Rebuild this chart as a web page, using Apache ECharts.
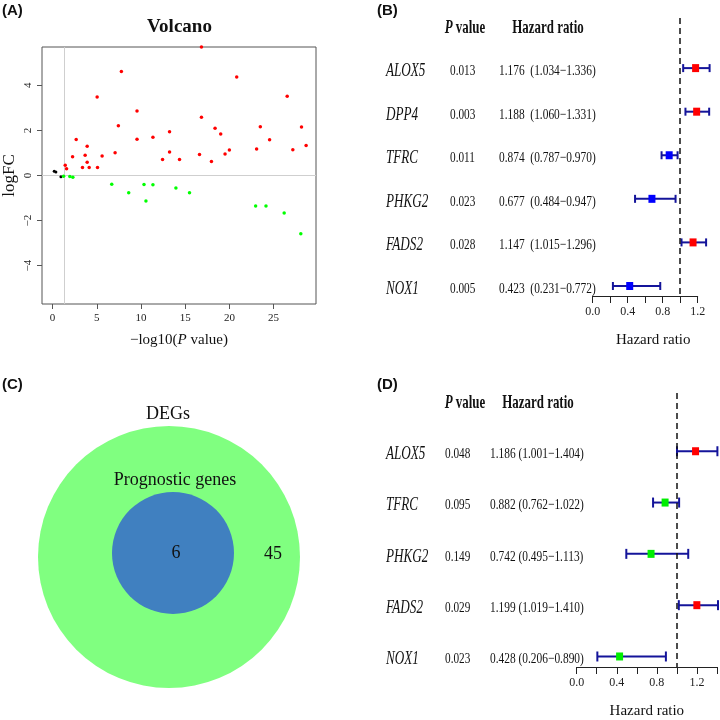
<!DOCTYPE html>
<html><head><meta charset="utf-8">
<script src="https://cdn.jsdelivr.net/npm/echarts@6/dist/echarts.min.js"></script>
<style>html,body{margin:0;padding:0;background:#fff}#c{width:720px;height:720px}</style>
</head><body><div id="c"></div>
<script>
// ---------- Panel A: volcano, points as [-log10(P value), logFC] ----------
const volcanoUp = [[16.84,5.70],[7.78,4.61],[20.83,4.37],[5.04,3.48],[26.54,3.51],[9.55,2.86],[16.84,2.58],[7.44,2.21],[18.38,2.10],[23.50,2.16],[28.16,2.15],[13.23,1.94],[19.02,1.84],[11.35,1.70],[2.67,1.60],[9.55,1.61],[24.55,1.59],[28.68,1.33],[3.91,1.30],[23.08,1.17],[27.18,1.14],[20.00,1.13],[13.23,1.04],[7.07,1.01],[16.62,0.93],[19.51,0.95],[3.68,0.90],[5.60,0.87],[2.26,0.83],[12.44,0.71],[14.36,0.71],[3.91,0.59],[17.97,0.62],[1.43,0.46],[3.38,0.36],[4.14,0.36],[5.08,0.36],[1.58,0.30]];
const volcanoDown = [[1.24,-0.03],[1.95,-0.04],[2.29,-0.08],[6.69,-0.39],[8.61,-0.77],[10.34,-0.40],[10.56,-1.13],[11.35,-0.41],[13.95,-0.56],[15.49,-0.77],[22.97,-1.35],[24.14,-1.35],[26.20,-1.66],[28.08,-2.58]];
const volcanoNS = [[0.18,0.19],[0.37,0.15],[0.94,-0.06]];
const volcanoXTicks = [0,5,10,15,20,25];
const volcanoYTicks = [-4,-2,0,2,4];
const pCutoff = 1.30;

// ---------- Panel B: univariate Cox ----------
const genesB = ['ALOX5','DPP4','TFRC','PHKG2','FADS2','NOX1'];
const pB = ['0.013','0.003','0.011','0.023','0.028','0.005'];
const hrB = [1.176,1.188,0.874,0.677,1.147,0.423];
const lowB = [1.034,1.060,0.787,0.484,1.015,0.231];
const upB = [1.336,1.331,0.970,0.947,1.296,0.772];

// ---------- Panel D: multivariate Cox ----------
const genesD = ['ALOX5','TFRC','PHKG2','FADS2','NOX1'];
const pD = ['0.048','0.095','0.149','0.029','0.023'];
const hrD = [1.186,0.882,0.742,1.199,0.428];
const lowD = [1.001,0.762,0.495,1.019,0.206];
const upD = [1.404,1.022,1.113,1.410,0.890];
const hrTickLabels = [0,0.4,0.8,1.2];

// ---------- Panel C: Venn ----------
const vennSets = ['DEGs','Prognostic genes'];
const vennCounts = [45, 6];

const SERIF = '"Liberation Serif","Times New Roman",serif';
const SANS = '"Liberation Sans",Arial,sans-serif';
const CI = '#14149a';
const chart = echarts.init(document.getElementById('c'));

function forest(idx, genes, pv, hr, lo, hi, cfg){
  const custom = {
    type:'custom', xAxisIndex:idx, yAxisIndex:idx, clip:false, silent:true, z:3,
    data: genes.map((g,i)=>[hr[i], i+1, lo[i], hi[i]]),
    renderItem(params, api){
      const i = params.dataIndex, row = api.value(1);
      const l = api.coord([api.value(2), row]), h = api.coord([api.value(3), row]);
      const y = l[1], ty = y + 3, ls = {stroke:CI, lineWidth:2};
      const hrTxt = hr[i].toFixed(3) + cfg.sep + '(' + lo[i].toFixed(3) + '\u2212' + hi[i].toFixed(3) + ')';
      const ts = (t, o) => Object.assign({text:t, fill:'#111', fontFamily:SERIF, fontSize:15, align:'left', verticalAlign:'middle'}, o||{});
      return {type:'group', children:[
        {type:'line', shape:{x1:l[0],y1:y,x2:h[0],y2:y}, style:ls},
        {type:'line', shape:{x1:l[0],y1:y-cfg.cap,x2:l[0],y2:y+cfg.cap}, style:ls},
        {type:'line', shape:{x1:h[0],y1:y-cfg.cap,x2:h[0],y2:y+cfg.cap}, style:ls},
        {type:'text', x:cfg.geneX, y:ty, scaleX:0.71, style:ts(genes[i], {fontStyle:'italic', fontSize:18.5})},
        {type:'text', x:cfg.pX, y:ty, scaleX:0.75, style:ts(pv[i])},
        {type:'text', x:cfg.hrX, y:ty, scaleX:0.76, style:ts(hrTxt)}
      ]};
    }
  };
  const squares = {
    type:'scatter', xAxisIndex:idx, yAxisIndex:idx, clip:false, silent:true, z:4,
    symbol:'rect', symbolSize:[7,8],
    data: hr.map((v,i)=>({value:[v,i+1], itemStyle:{color: v>1 ? '#ff0000' : cfg.low, opacity:1}})),
    markLine:{silent:true, symbol:'none', label:{show:false}, animation:false,
      lineStyle:{color:'#111', type:[6,4], width:1.5}, data:[{xAxis:1}]}
  };
  return [custom, squares];
}

function hrAxis(idx, max){
  return {gridIndex:idx, type:'value', min:0, max:max, interval:0.2,
    axisLine:{show:true, onZero:false, lineStyle:{color:'#222', width:1}},
    axisTick:{show:true, length:7, lineStyle:{color:'#222'}},
    axisLabel:{margin:10, fontSize:12, color:'#222', fontFamily:SERIF,
      formatter: v => hrTickLabels.some(t=>Math.abs(t-v)<1e-6) ? v.toFixed(1) : ''},
    splitLine:{show:false},
    name:'Hazard ratio', nameLocation:'middle', nameGap:37,
    nameTextStyle:{fontFamily:SERIF, fontSize:15, color:'#111', padding: idx===1 ? [0,0,0,16] : 0}};
}

function header(y, pCx, hCx){
  const base = {fill:'#111', fontFamily:SERIF, fontSize:19, fontWeight:'bold', align:'center', verticalAlign:'middle', textAlign:'center', textVerticalAlign:'middle'};
  return [
    {type:'text', x:pCx, y:y, z:10, scaleX:0.68, silent:true, style:Object.assign({}, base, {text:'{i|P} value',
      rich:{i:{fontStyle:'italic', fontWeight:'bold', fontSize:19, fontFamily:SERIF, fill:'#111'}}})},
    {type:'text', x:hCx, y:y, z:10, scaleX:0.68, silent:true, style:Object.assign({}, base, {text:'Hazard ratio'})}
  ];
}

function panelLabel(x, y, t){
  return {type:'text', x:x, y:y, z:10, silent:true, style:{text:t, fill:'#111', fontFamily:SANS, fontWeight:'bold', fontSize:15, align:'left', verticalAlign:'middle', textAlign:'left', textVerticalAlign:'middle'}};
}
function vennName(x, y, t){
  return {type:'text', x:x, y:y, z:10, silent:true, style:{text:t, fill:'#111', fontFamily:SERIF, fontSize:18, align:'center', verticalAlign:'middle', textAlign:'center', textVerticalAlign:'middle'}};
}

const option = {
  animation:false,
  backgroundColor:'#fff',
  textStyle:{fontFamily:SERIF},
  title:[{text:'Volcano', left:179.5, top:18, textAlign:'center', padding:0,
    textStyle:{fontFamily:SERIF, fontWeight:'bold', fontSize:19, color:'#111'}}],
  grid:[
    {left:41, top:47, width:275, height:257, show:true, borderColor:'#555', borderWidth:1, backgroundColor:'transparent'},
    {left:592.7, top:18, width:105, height:278},
    {left:576.7, top:393, width:141.1, height:277.7},
    {left:0, top:360, width:360, height:360}
  ],
  xAxis:[
    {gridIndex:0, type:'value', min:-1.2, max:29.8,
      axisLine:{show:false, onZero:false},
      axisTick:{show:true, length:5, lineStyle:{color:'#555'}, customValues:volcanoXTicks},
      axisLabel:{margin:9, fontSize:11, color:'#222', fontFamily:SERIF, customValues:volcanoXTicks},
      splitLine:{show:false},
      name:'\u2212log10({i|P} value)', nameLocation:'middle', nameGap:29,
      nameTextStyle:{fontFamily:SERIF, fontSize:15, color:'#111', rich:{i:{fontStyle:'italic', fontFamily:SERIF, fontSize:15, color:'#111'}}}},
    hrAxis(1, 1.2),
    hrAxis(2, 1.4),
    {gridIndex:3, type:'value', min:0, max:360, show:false}
  ],
  yAxis:[
    {gridIndex:0, type:'value', min:-5.7, max:5.7,
      axisLine:{show:false, onZero:false},
      axisTick:{show:true, length:5, lineStyle:{color:'#555'}, customValues:volcanoYTicks},
      axisLabel:{margin:8, fontSize:11, color:'#222', fontFamily:SERIF, rotate:90, customValues:volcanoYTicks,
        formatter: v => (v<0 ? '\u2212'+Math.abs(v) : String(v))},
      splitLine:{show:false},
      name:'logFC', nameLocation:'middle', nameGap:24, nameRotate:90,
      nameTextStyle:{fontFamily:SERIF, fontSize:17, color:'#111'}},
    {gridIndex:1, type:'value', inverse:true, min:-0.15, max:6.23, show:false},
    {gridIndex:2, type:'value', inverse:true, min:-0.135, max:5.205, show:false},
    {gridIndex:3, type:'value', inverse:true, min:360, max:720, show:false}
  ],
  series:[
    {type:'scatter', xAxisIndex:0, yAxisIndex:0, data:volcanoNS, symbolSize:3, itemStyle:{color:'#000', opacity:1}, silent:true},
    {type:'scatter', xAxisIndex:0, yAxisIndex:0, data:volcanoDown, symbolSize:3.5, itemStyle:{color:'#00ff00', opacity:1}, silent:true},
    {type:'scatter', xAxisIndex:0, yAxisIndex:0, data:volcanoUp, symbolSize:3.5, itemStyle:{color:'#ff0000', opacity:1}, silent:true,
      markLine:{silent:true, symbol:'none', label:{show:false}, z:1,
        lineStyle:{color:'#cfcfcf', type:'solid', width:1},
        data:[{xAxis:pCutoff},{yAxis:0}]}},
    ...forest(1, genesB, pB, hrB, lowB, upB, {geneX:386, pX:450, hrX:499, sep:'  ', cap:4, low:'#0000ff'}),
    ...forest(2, genesD, pD, hrD, lowD, upD, {geneX:386, pX:445, hrX:490, sep:' ', cap:5, low:'#00ee00'}),
    {type:'scatter', xAxisIndex:3, yAxisIndex:3, silent:true, z:2,
      label:{show:true, position:'inside', color:'#111', fontSize:18, fontFamily:SERIF},
      data:[
        {value:[169,557], symbolSize:262, itemStyle:{color:'#80ff80', opacity:1}, label:{formatter:String(vennCounts[0]), offset:[104,-3]}},
        {value:[173,553], symbolSize:122, itemStyle:{color:'#4080c0', opacity:1}, label:{formatter:String(vennCounts[1]), offset:[3,0]}}
      ]}
  ],
  graphic:[
    panelLabel(2, 11, '(A)'),
    panelLabel(377, 11, '(B)'),
    panelLabel(2, 385, '(C)'),
    panelLabel(377, 385, '(D)'),
    ...header(28, 465, 548),
    ...header(403, 465, 538),
    vennName(168, 414, vennSets[0]),
    vennName(175, 480, vennSets[1])
  ]
};
chart.setOption(option);
</script></body></html>
